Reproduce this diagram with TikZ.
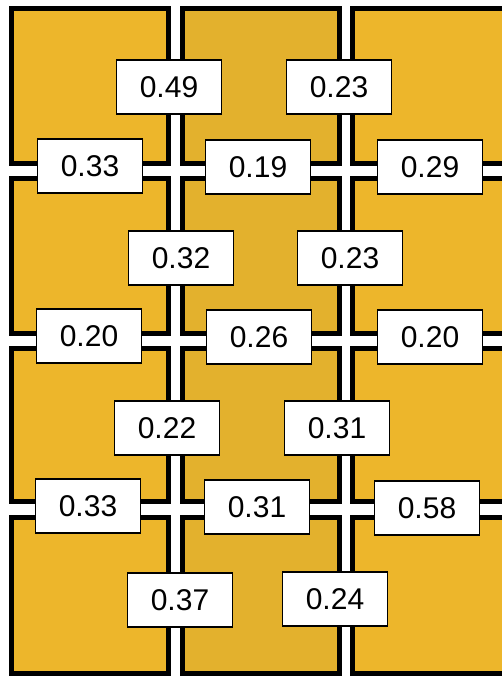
\documentclass[tikz,border=0pt]{standalone}
\usepackage{fontspec}
\setmainfont{Liberation Sans}
\definecolor{gold}{HTML}{EDB62B}
\definecolor{golddark}{HTML}{E3B12D}
\tikzset{
  tile/.style={draw=black, line width=5pt, fill=gold},
  tiledark/.style={draw=black, line width=5pt, fill=golddark},
  val/.style={draw=black, line width=1.6pt, fill=white, minimum width=105pt,
    minimum height=54pt, inner sep=0pt, font=\fontsize{30}{30}\selectfont}
}
\begin{document}
\begin{tikzpicture}[x=1pt,y=-1pt]
\useasboundingbox (0,0) rectangle (502,677);
\fill[white] (0,0) rectangle (502,677);
% tiles: outer edges, drawn at centreline (inset 2.5)
\foreach \ya/\yb in {6/166, 176/336, 346/504, 515/676}{
  \draw[tile] (9+2.5,\ya+2.5) rectangle (171-2.5,\yb-2.5);
  \draw[tiledark] (180+2.5,\ya+2.5) rectangle (342-2.5,\yb-2.5);
  \draw[tile] (350+2.5,\ya+2.5) rectangle (530,\yb-2.5);
}
% values across vertical gaps
\node[val] (v11) at (169,87) {0.49};
\node[val] (v12) at (339,87) {0.23};
\node[val] (v21) at (181,258) {0.32};
\node[val] (v22) at (350,258) {0.23};
\node[val] (v31) at (167,428) {0.22};
\node[val] (v32) at (337,428) {0.31};
\node[val] (v41) at (180,600) {0.37};
\node[val] (v42) at (335,599) {0.24};
% values across horizontal gaps
\node[val] (h11) at (90,166) {0.33};
\node[val] (h12) at (258,167) {0.19};
\node[val] (h13) at (430,167) {0.29};
\node[val] (h21) at (89,336) {0.20};
\node[val] (h22) at (259,337) {0.26};
\node[val] (h23) at (430,337) {0.20};
\node[val] (h31) at (88,506) {0.33};
\node[val] (h32) at (257,507) {0.31};
\node[val] (h33) at (427,508) {0.58};
\end{tikzpicture}
\end{document}
